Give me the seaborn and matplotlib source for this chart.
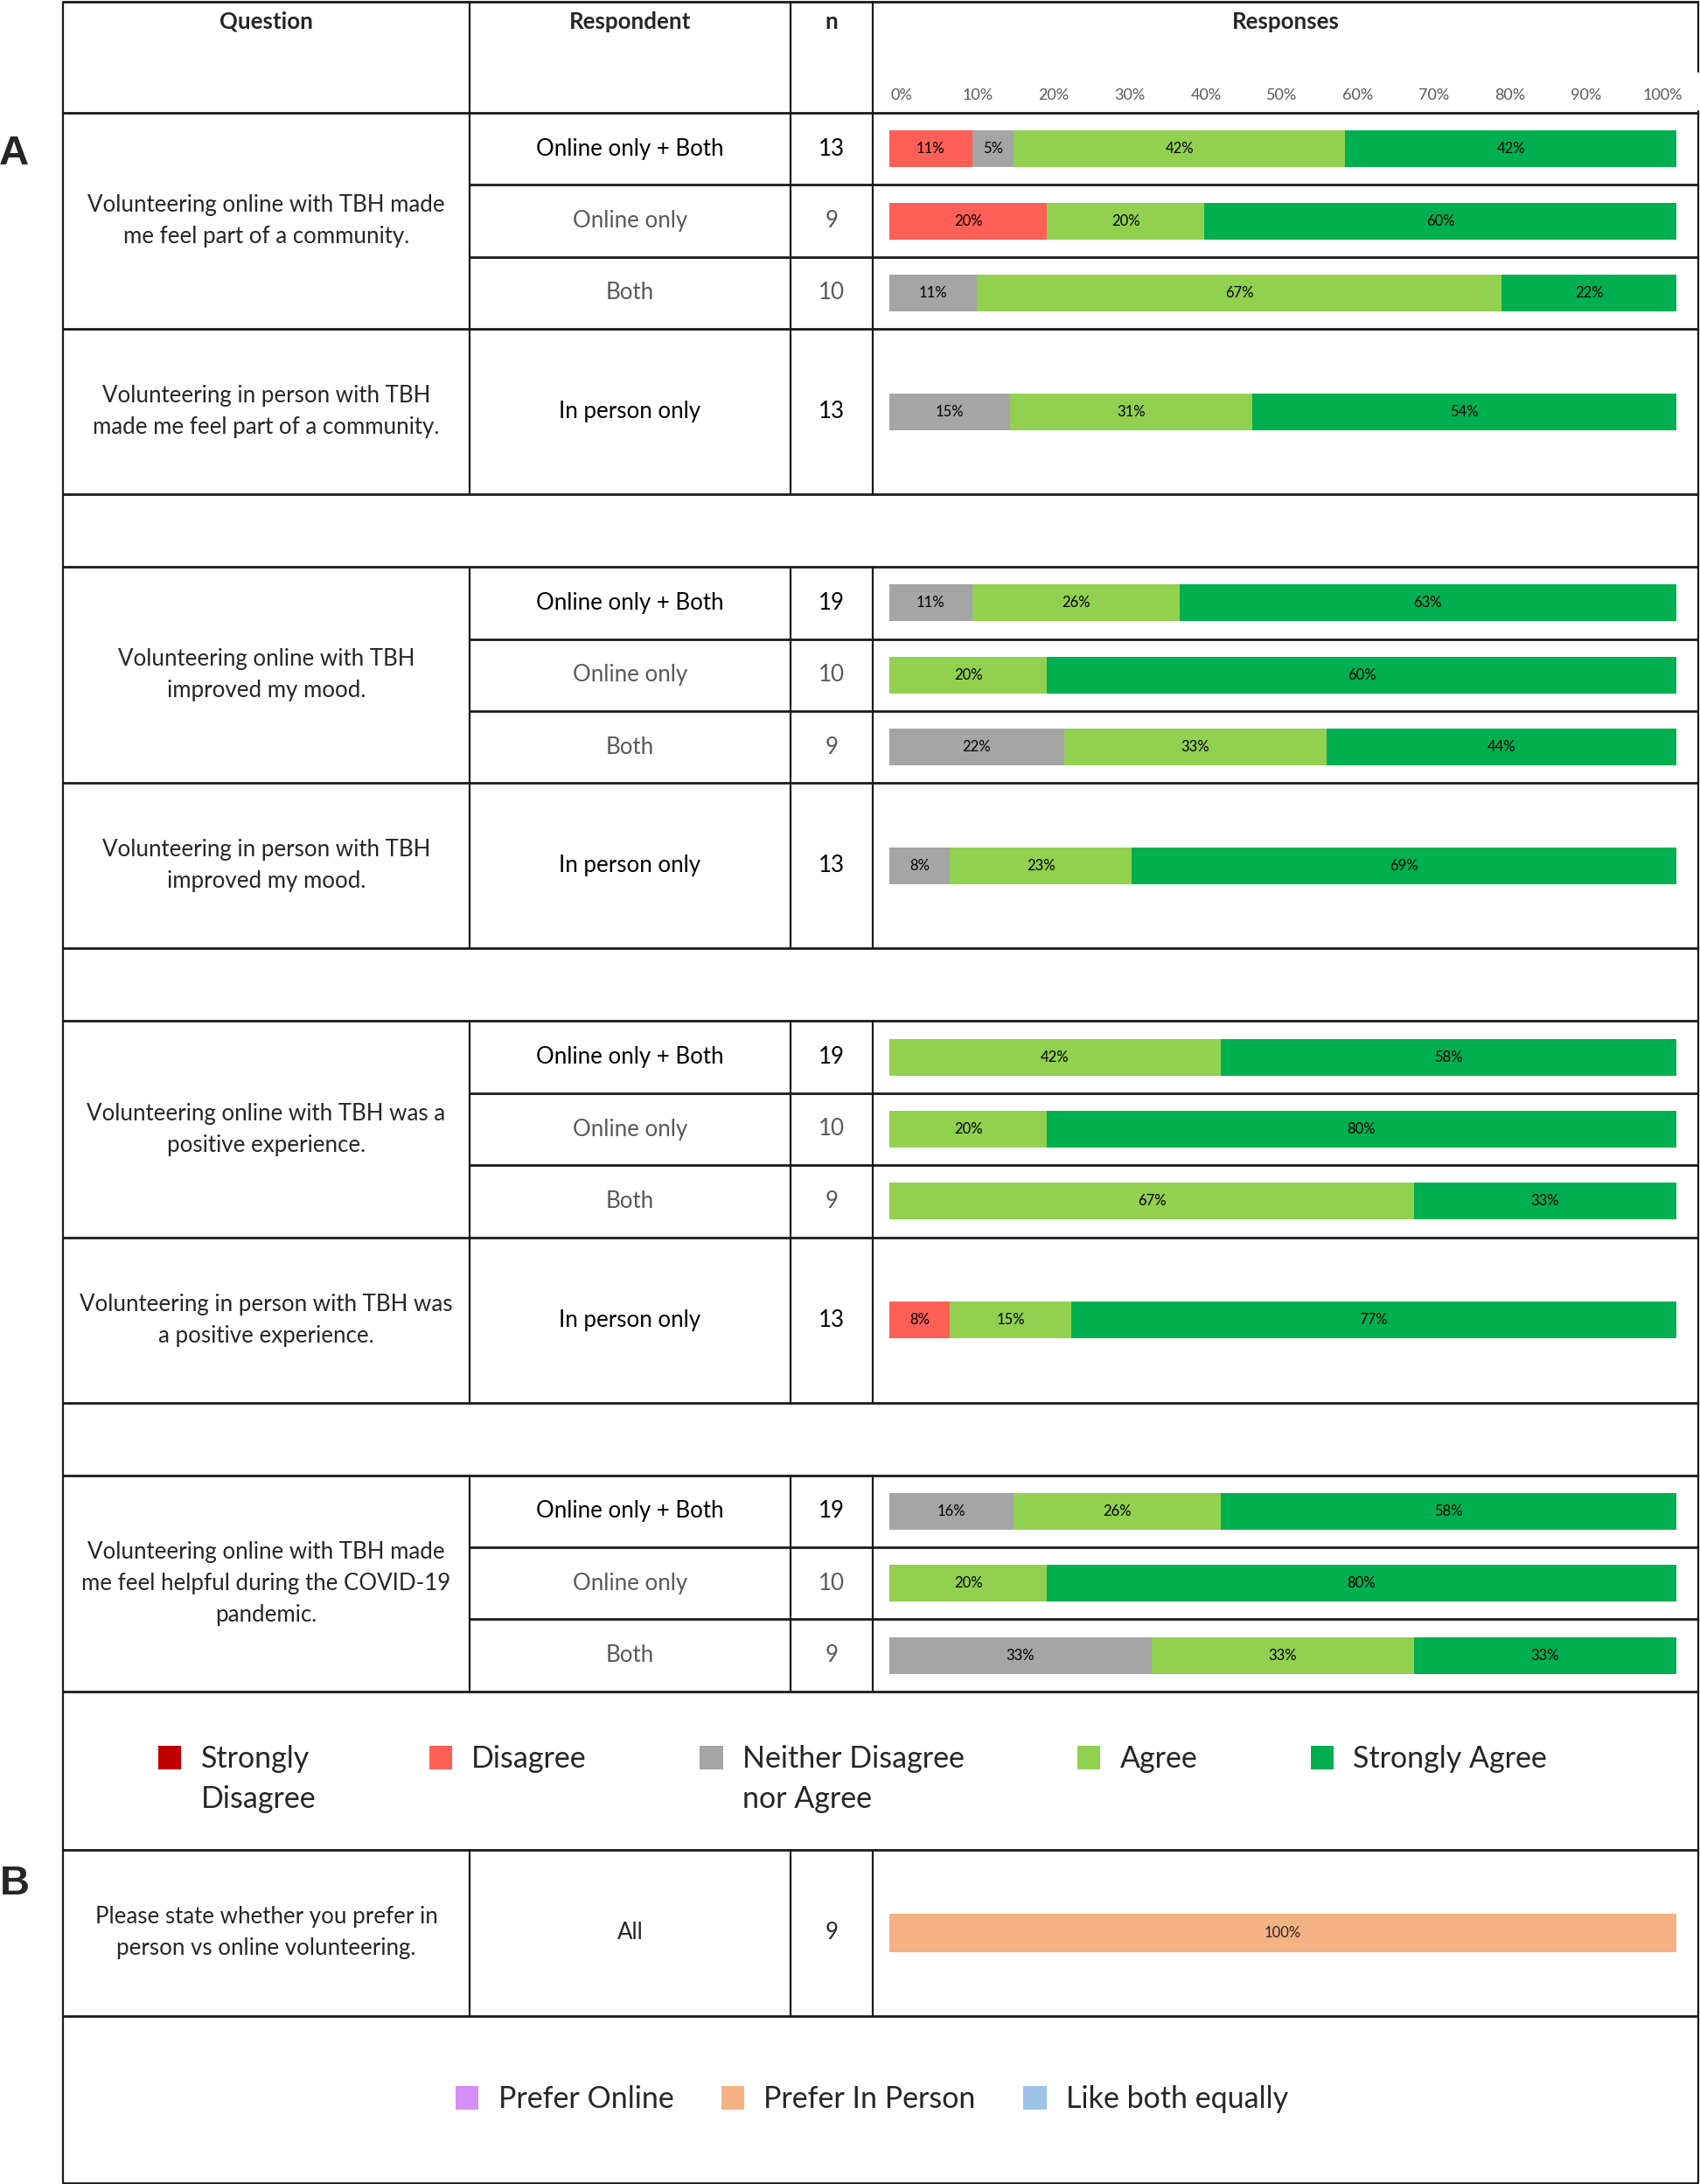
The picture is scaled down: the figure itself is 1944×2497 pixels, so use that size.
import numpy as np
import pandas as pd
import matplotlib
matplotlib.use("Agg")
import matplotlib.pyplot as plt
import seaborn as sns
from matplotlib.patches import Patch, Rectangle
from matplotlib.legend_handler import HandlerPatch

sns.set_theme(style="white")
plt.rcParams['font.family'] = ['Lato', 'DejaVu Sans']

# ---------------- data ----------------
responses = ["Strongly Disagree", "Disagree", "Neither Disagree nor Agree", "Agree", "Strongly Agree"]
response_labels = ["Strongly\nDisagree", "Disagree", "Neither Disagree\nnor Agree", "Agree", "Strongly Agree"]
response_colors = ["#C00000", "#FF5F57", "#A5A5A5", "#92D050", "#00B050"]

questions = [
    "Volunteering online with TBH made\nme feel part of a community.",
    "Volunteering in person with TBH\nmade me feel part of a community.",
    "Volunteering online with TBH\nimproved my mood.",
    "Volunteering in person with TBH\nimproved my mood.",
    "Volunteering online with TBH was a\npositive experience.",
    "Volunteering in person with TBH was\na positive experience.",
    "Volunteering online with TBH made\nme feel helpful during the COVID-19\npandemic.",
]
respondents = [
    ["Online only + Both", "Online only", "Both"],
    ["In person only"],
    ["Online only + Both", "Online only", "Both"],
    ["In person only"],
    ["Online only + Both", "Online only", "Both"],
    ["In person only"],
    ["Online only + Both", "Online only", "Both"],
]
n_values = [[13, 9, 10], [13], [19, 10, 9], [13], [19, 10, 9], [13], [19, 10, 9]]

# percent of respondents per answer, one entry per bar from top to bottom
strongly_disagree = [0, 0, 0, 0, 0, 0, 0, 0, 0, 0, 0, 0, 0, 0, 0]
disagree = [10.53, 20, 0, 0, 0, 0, 0, 0, 0, 0, 0, 7.69, 0, 0, 0]
neither = [5.26, 0, 11.11, 15.38, 10.53, 0, 22.22, 7.69, 0, 0, 0, 0, 15.79, 0, 33.33]
agree = [42.11, 20, 66.67, 30.77, 26.32, 20, 33.33, 23.08, 42.11, 20, 66.67, 15.38, 26.32, 20, 33.33]
strongly_agree = [42.11, 60, 22.22, 53.85, 63.16, 80, 44.44, 69.23, 57.89, 80, 33.33, 76.92, 57.89, 80, 33.34]
# the original prints "60%" on the 80% segment of this bar
label_override = {(5, 4): "60%"}

pref_labels = ["Prefer Online", "Prefer In Person", "Like both equally"]
pref_colors = ["#D48EF6", "#F4B183", "#9DC3E6"]
pref_question = "Please state whether you prefer in\nperson vs online volunteering."
pref_respondent = "All"
pref_n = 9
pref_values = [0, 100, 0]

tick_values = list(range(0, 101, 10))

# ---------------- layout (pixels) ----------------
W, H = 1944, 2497
X_LEFT, X_Q, X_R, X_N, X_RIGHT = 72, 537, 904, 998, 1942
BAR_L, BAR_R = 1017, 1917
Y_TOP, Y_HEAD = 2, 129
SUB, SINGLE, BLANK = 82.4, 189, 83
BAR_PX = 42
GREY_TXT = "#595959"
LINE = "#1a1a1a"
FS = 18.6
LEG_FS = 24.5


def rect(x0, y0, x1, y1):
    return [x0 / W, 1 - y1 / H, (x1 - x0) / W, (y1 - y0) / H]


fig = plt.figure(figsize=(W / 100, H / 100), dpi=100)
bg = fig.add_axes([0, 0, 1, 1])
bg.set_xlim(0, W)
bg.set_ylim(H, 0)
bg.axis('off')

# stacked values
stack = np.array([strongly_disagree, disagree, neither, agree, strongly_agree]).T
cum = np.cumsum(stack, axis=1)

# header
for x, t in [((X_LEFT + X_Q) / 2, "Question"), ((X_Q + X_R) / 2, "Respondent"),
             ((X_R + X_N) / 2, "n"), ((X_N + X_RIGHT) / 2, "Responses")]:
    bg.text(x, 25, t, ha='center', va='center', fontsize=FS, fontweight='bold')

ax_t = fig.add_axes(rect(1031, 108, 1901, 108.5))
ax_t.set_xlim(0, 100)
ax_t.set_xticks(tick_values)
ax_t.set_xticklabels([f"{v}%" for v in tick_values], color=GREY_TXT, fontsize=13)
ax_t.tick_params(axis='x', bottom=False, top=False, labelbottom=True, pad=0, length=0)
for lbl in ax_t.get_xticklabels():
    lbl.set_va('center')
ax_t.set_yticks([])
for s in ax_t.spines.values():
    s.set_visible(False)
ax_t.patch.set_alpha(0)

hlines_full = [Y_TOP, Y_HEAD]
vseg = [(Y_TOP, Y_HEAD)]

y = Y_HEAD
row = 0
for q, groups in enumerate(respondents):
    h = SUB * len(groups) if len(groups) > 1 else SINGLE
    top, bot = y, y + h
    hlines_full.append(bot)
    vseg.append((top, bot))
    sub_h = h / len(groups)
    for i in range(1, len(groups)):
        bg.plot([X_Q, X_RIGHT], [top + i * sub_h] * 2, color=LINE, lw=2.0, solid_capstyle='butt')

    bg.text((X_LEFT + X_Q) / 2, (top + bot) / 2, questions[q], ha='center', va='center',
            fontsize=FS, linespacing=1.55)
    for i, g in enumerate(groups):
        c = GREY_TXT if g in ("Online only", "Both") else "black"
        yc = top + (i + 0.5) * sub_h
        bg.text((X_Q + X_R) / 2, yc, g, ha='center', va='center', fontsize=FS, color=c)
        bg.text((X_R + X_N) / 2, yc, str(n_values[q][i]), ha='center', va='center', fontsize=FS, color=c)

    ax = fig.add_axes(rect(BAR_L, top, BAR_R, bot))
    rows = list(range(row, row + len(groups)))
    for k in reversed(range(len(responses))):
        sns.barplot(x=cum[rows, k], y=groups, orient='h', color=response_colors[k],
                    saturation=1, width=BAR_PX / sub_h, linewidth=0, errorbar=None, ax=ax)
    for i, r in enumerate(rows):
        for k in range(len(responses)):
            v = stack[r, k]
            if v > 0:
                lab = label_override.get((r, k), f"{v:.0f}%")
                ax.text(cum[r, k] - v / 2, i, lab, ha='center', va='center', fontsize=12, color='black')
    ax.set_xlim(0, 100)
    ax.axis('off')

    row += len(groups)
    y = bot
    if q in (1, 3, 5):
        y += BLANK
        hlines_full.append(y)

# legend A row
leg_top, leg_bot = y, y + 181
hlines_full.append(leg_bot)

# part B row
b_top, b_bot = leg_bot, leg_bot + 190
hlines_full.append(b_bot)
vseg.append((b_top, b_bot))
bg.text((X_LEFT + X_Q) / 2, (b_top + b_bot) / 2, pref_question, ha='center', va='center',
        fontsize=FS, linespacing=1.55)
bg.text((X_Q + X_R) / 2, (b_top + b_bot) / 2, pref_respondent, ha='center', va='center', fontsize=FS)
bg.text((X_R + X_N) / 2, (b_top + b_bot) / 2, str(pref_n), ha='center', va='center', fontsize=FS)

axb = fig.add_axes(rect(BAR_L, b_top, BAR_R, b_bot))
pref_cum = np.cumsum(pref_values)
for k in reversed(range(len(pref_labels))):
    sns.barplot(x=[pref_cum[k]], y=[pref_respondent], orient='h', color=pref_colors[k],
                saturation=1, width=44 / 190, linewidth=0, errorbar=None, ax=axb)
for k, v in enumerate(pref_values):
    if v > 0:
        axb.text(pref_cum[k] - v / 2, 0, f"{v}%", ha='center', va='center', fontsize=12)
axb.set_xlim(0, 100)
axb.axis('off')

lb_top, lb_bot = b_bot, b_bot + 191
hlines_full.append(lb_bot)

# table lines
for yy in hlines_full:
    bg.plot([X_LEFT, X_RIGHT], [yy, yy], color=LINE, lw=2.0, solid_capstyle='butt')
bg.plot([X_LEFT, X_LEFT], [Y_TOP, lb_bot], color=LINE, lw=1.6)
bg.plot([X_RIGHT, X_RIGHT], [Y_TOP, 82], color=LINE, lw=1.6)
bg.plot([X_RIGHT, X_RIGHT], [Y_HEAD - 2, lb_bot], color=LINE, lw=1.6)
for (t, b) in vseg:
    for x in (X_Q, X_R, X_N):
        bg.plot([x, x], [t, b], color=LINE, lw=1.6)

# panel letters
bg.text(16, 176, "A", ha='center', va='center', fontsize=34, fontweight='bold', family='Liberation Sans')
bg.text(17, 2154, "B", ha='center', va='center', fontsize=34, fontweight='bold', family='Liberation Sans')


class Swatch(HandlerPatch):
    def __init__(self, lift=0.0):
        super().__init__()
        self.lift = lift

    def create_artists(self, legend, orig_handle, xdescent, ydescent, width, height, fontsize, trans):
        r = Rectangle((-xdescent, -ydescent + self.lift * fontsize), width, height,
                      facecolor=orig_handle.get_facecolor(), edgecolor='none', transform=trans)
        return [r]


# every legend entry gets two text lines so that the swatches line up with the first line
legend_a_text = [lab if "\n" in lab else lab + "\n " for lab in response_labels]
handles_a = [Patch(facecolor=c) for c in response_colors]
leg_a = bg.legend(handles_a, legend_a_text, loc='center', bbox_to_anchor=(975, 2034),
                  bbox_transform=bg.transData, ncol=5, frameon=False, fontsize=LEG_FS,
                  handlelength=0.78, handleheight=0.87, handletextpad=0.65, columnspacing=3.8,
                  handler_map={h: Swatch(0.76) for h in handles_a})
for t in leg_a.get_texts():
    t.set_linespacing(1.52)
bg.add_artist(leg_a)

handles_b = [Patch(facecolor=c) for c in pref_colors]
bg.legend(handles_b, pref_labels, loc='center', bbox_to_anchor=(997, (lb_top + lb_bot) / 2),
          bbox_transform=bg.transData, ncol=3, frameon=False, fontsize=LEG_FS,
          handlelength=0.78, handleheight=0.87, handletextpad=0.65, columnspacing=1.6,
          handler_map={h: Swatch() for h in handles_b})

fig.savefig("out.png", dpi=100)
